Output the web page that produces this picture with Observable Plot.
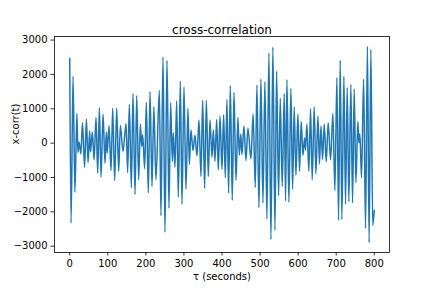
<!DOCTYPE html>
<html><head><meta charset="utf-8">
<script src="https://cdn.jsdelivr.net/npm/d3@7"></script>
<script src="https://cdn.jsdelivr.net/npm/@observablehq/plot@0.6"></script>
<style>body{margin:0;background:#fff}</style>
</head><body><div id="chart"></div>
<script>
// lag (seconds) of each local extremum
const tau = [0,3.5,8.7,13.6,18.8,21.5,24.5,29.3,33.6,39,43.8,48.1,52.5,54.5,59.5,63.9,69.1,73.5,77.9,82.2,87.5,92.7,96.2,98.5,103.2,108.5,112.9,118.1,123.4,128.6,133,140,
147.9,152.2,156.6,161.9,166.2,171.5,175.9,181.1,185.5,189,191.6,196.9,201.2,206.5,210.9,216.1,221,226.5,235.4,239.7,245,250.2,255.5,260.7,265.1,269.5,272.1,276.5,280.9,285.2,290.5,294.9,300.1,305.4,310.6,314.2,318.5,323.8,329,334.3,339.5,344.8,349.2,354.4,358.8,364,368.4,373.7,377.2,381.5,385.9,390.3,394.7,399.9,404.3,408.7,413,417.4,421.8,427,431.4,436.7,441.9,445.4,449.3,452.4,457.7,462.9,468.1,476,481.7,487.4,491.7,497,502.2,507.5,512.7,518,523.2,528.5,533.7,539,543.4,548.6,553,558.2,563.5,567,570.5,575.7,581,585.4,589.7,594.1,599.4,603.7,608.1,612.5,616.9,619.5,623,628.2,632.6,637,642.2,646.6,652,656,660,664.2,668.5,673.8,679,685.2,691.3,696.5,701.8,706.2,710.5,714.9,720.2,724.5,728.9,733.3,738.5,742.9,747.3,751.7,756.9,759.5,762.2,766.5,772,777,782,786.5,791,796,800];
// cross-correlation value at each of those lags
const xcorr = [2468,-2323,1946,-1435,865,-270,30,-314,594,-700,700,-565,362,-256,324,-488,749,-874,1038,-990,845,-584,324,-295,517,-797,1019,-1087,1019,-816,517,-246,
575,-855,1135,-1299,1444,-1492,1386,-1067,555,-101,246,-739,1193,-1454,1502,-1261,1058,-1067,1541,-2110,2507,-2594,2410,-1898,1174,-526,304,-700,1231,-1570,1811,-1782,1637,-1338,1019,-623,382,-217,227,-372,671,-971,1251,-1319,1251,-971,671,-411,382,-526,690,-778,787,-758,826,-1010,1270,-1454,1676,-1666,1483,-1087,749,-352,266,-330,500,-507,440,-459,845,-1290,1695,-1879,1869,-1743,1792,-2207,2623,-2806,2800,-2536,2101,-1531,1309,-1261,1444,-1685,1850,-1724,1598,-1338,1058,-932,845,-816,633,-352,150,-198,555,-816,1000,-1067,1058,-893,787,-604,498,-469,555,-546,594,-488,865,-1377,1907,-2246,2410,-2226,1946,-1782,1618,-1705,1715,-1743,1579,-1145,633,14,266,-1010,1865,-2480,2818,-2897,2725,-2400,-1950];
const xTicks = [0,100,200,300,400,500,600,700,800];
const yTicks = [-3000,-2000,-1000,0,1000,2000,3000];
const titleText = "cross-correlation";
const xLabel = "τ (seconds)";
const yLabel = "x-corr(t)";

const data = tau.map((t, i) => ({tau: t, v: xcorr[i]}));
const fmt = d3.format("d");
const chart = Plot.plot({
  width: 432, height: 288,
  marginLeft: 54, marginRight: 43, marginTop: 36, marginBottom: 36,
  style: {fontFamily: "DejaVu Sans", fontSize: "10px", color: "black", background: "white"},
  x: {domain: [-40, 840]},
  y: {domain: [-3183, 3104]},
  marks: [
    Plot.line(data, {x: "tau", y: "v", stroke: "#1f77b4", strokeWidth: 1.5, curve: "monotone-x"}),
    Plot.frame({stroke: "black", strokeWidth: 0.8}),
    Plot.axisX({ticks: xTicks, tickSize: 3.5, tickPadding: 3.5, tickFormat: fmt, label: null, strokeWidth: 0.8}),
    Plot.axisY({ticks: yTicks, tickSize: 3.5, tickPadding: 3.5, tickFormat: fmt, label: null, strokeWidth: 0.8}),
    Plot.text([titleText], {text: d => d, frameAnchor: "top", dy: -11, fontSize: 12}),
    Plot.text([xLabel], {text: d => d, frameAnchor: "bottom", dy: 27}),
    Plot.text([yLabel], {text: d => d, frameAnchor: "left", dx: -39, rotate: -90})
  ]
});
document.getElementById("chart").append(chart);
</script>
</body></html>
